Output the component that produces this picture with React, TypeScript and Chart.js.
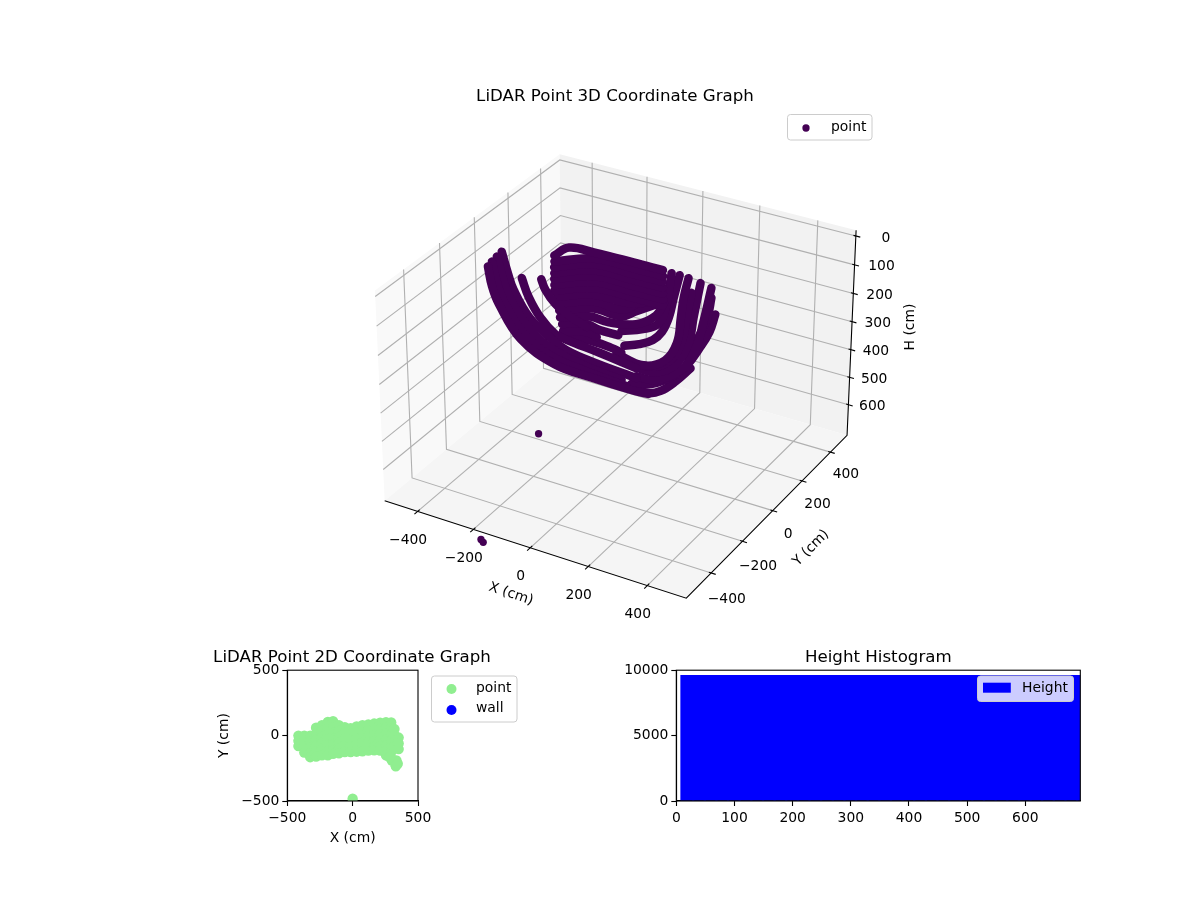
import React, { useEffect, useRef } from "react";
import { Chart, registerables } from "chart.js";

Chart.register(...registerables);

const FONT = "'DejaVu Sans'";
const PURPLE = "#440154";

const tickX3D = [-400, -200, 0, 200, 400];
const tickY3D = [-400, -200, 0, 200, 400];
const tickH3D = [0, 100, 200, 300, 400, 500, 600];
const tickHistX = [0, 100, 200, 300, 400, 500, 600];
const X_LIM = [-520, 530];
const Y_LIM = [-555, 520];
const H_LIM = [-20, 713];

type P3 = number[];
const arcA: P3[] = [[-483,13,147],[-456,-9,199],[-424,-23,246],[-337,-39,339],[-224,-21,407],[-119,17,441],[-3,62,474],[48,84,485]];
const arcA2: P3[] = [[-476,26,134],[-445,4,191],[-412,-12,240],[-334,-26,324],[-245,-16,383],[-134,19,425],[-17,61,464]];
const arcA3: P3[] = [[-467,41,121],[-434,20,178],[-404,4,225],[-337,-9,298],[-260,-6,357],[-153,22,407],[-34,62,448]];
const arcB: P3[] = [[-458,56,108],[-424,35,165],[-395,20,209],[-331,6,282],[-262,9,334],[-204,18,370],[-114,46,404],[4,88,443]];
const arcC: P3[] = [[-383,50,178],[-350,34,227],[-302,23,282],[-249,23,326],[-212,33,342],[-115,66,376],[-4,102,417]];
const arcD: P3[] = [[-330,79,181],[-310,70,209],[-273,66,246],[-227,71,277],[-170,83,308]];
const sweep0: P3[] = [[-314,133,118],[-281,168,97],[-211,200,110],[-97,248,136],[-12,284,157]];
const sweep1: P3[] = [[-309,125,134],[-206,191,126],[-92,240,152],[-7,276,173]];
const sweep2: P3[] = [[-305,116,149],[-202,183,141],[-88,231,167],[-3,267,188]];
const sweep3: P3[] = [[-300,108,165],[-197,174,157],[-83,223,183],[2,259,204]];
const sweep4: P3[] = [[-295,99,180],[-192,166,172],[-78,214,198],[7,250,219]];
const sweep5: P3[] = [[-290,91,196],[-187,158,188],[-73,206,214],[12,242,235]];
const sweep6: P3[] = [[-286,83,212],[-183,149,204],[-69,198,230],[16,234,251]];
const sweep7: P3[] = [[-273,79,227],[-177,140,222],[-64,189,246],[5,241,230]];
const sweep8: P3[] = [[-265,71,246],[-172,130,240],[-83,167,261],[-40,215,230]];
const sweep9: P3[] = [[-257,63,264],[-166,120,259],[-86,152,279],[-50,183,266],[9,234,243]];
const sweep10: P3[] = [[-249,54,282],[-173,101,279],[-115,124,295],[-40,165,300],[6,208,277],[17,239,243]];
const sweep11: P3[] = [[-238,48,300],[-178,85,298],[-133,99,316],[-79,121,329]];
const sweep12: P3[] = [[-230,40,318],[-166,76,321],[-135,84,334]];
const sweep13: P3[] = [[-225,31,334],[-159,64,341],[-87,92,363],[-57,101,376]];
const arcE0: P3[] = [[-74,132,318],[-18,168,313],[18,200,300],[26,235,256],[14,293,165]];
const arcE1: P3[] = [[-54,115,357],[-16,141,353],[17,169,342],[35,194,321],[42,226,282],[39,262,230],[37,303,170]];
const arcF: P3[] = [[-69,91,378],[12,117,409],[66,158,396],[84,202,350],[74,245,282],[66,277,230],[63,313,178]];
const arcF2: P3[] = [[-8,107,407],[52,139,412],[87,178,386],[96,217,339],[89,254,282],[83,297,217]];
const arcG: P3[] = [[10,108,420],[52,127,428],[98,170,407],[115,222,347],[108,265,282],[99,325,191]];
const arcH: P3[] = [[2,91,438],[58,116,448],[116,169,422],[139,223,365],[138,273,295],[132,335,204]];
const arcM: P3[] = [[118,196,386],[137,245,334],[145,287,282],[140,321,230]];
const arcJ: P3[] = [[164,303,274],[162,269,321],[147,226,368],[130,188,407],[100,148,438],[48,103,459],[-5,72,459]];
const arcK: P3[] = [[11,74,469],[46,85,483],[79,108,477],[112,146,451],[141,187,417]];
const outliers3D: P3[] = [[-16,-470,363],[-140,-608,700],[-126,-618,700]];
const allArcs = [arcA,arcA2,arcA3,arcB,arcC,arcD,sweep0,sweep1,sweep2,sweep3,sweep4,sweep5,sweep6,sweep7,sweep8,sweep9,sweep10,sweep11,sweep12,sweep13,arcE0,arcE1,arcF,arcF2,arcG,arcH,arcM,arcJ,arcK];

const planX: number[] = [-415,-415,-415,-370,-370,-370,-370,-325,-325,-325,-325,-325,-280,-280,-280,-280,-280,-280,-235,-235,-235,-235,-235,-235,-190,-190,-190,-190,-190,-190,-190,-150,-150,-150,-150,-150,-150,-150,-105,-105,-105,-105,-105,-105,-60,-60,-60,-60,-60,-15,-15,-15,-15,-15,30,30,30,30,30,75,75,75,75,75,120,120,120,120,120,165,165,165,165,165,165,210,210,210,210,210,210,255,255,255,255,255,255,255,295,295,295,295,295,295,295,320,320,320,320,352,352,352,330,300,335,280,330,345,0];
const planY: number[] = [0,-40,-80,0,-45,-90,-130,0,-45,-90,-135,-165,60,15,-30,-75,-120,-160,80,35,-10,-55,-100,-150,105,60,15,-30,-75,-120,-150,110,65,20,-25,-70,-115,-140,80,35,-10,-55,-100,-135,65,20,-25,-70,-125,57,15,-30,-80,-125,70,25,-20,-65,-123,80,35,-10,-55,-120,85,40,-5,-50,-115,92,50,5,-40,-85,-113,98,55,10,-35,-80,-115,103,60,15,-30,-75,-120,-150,100,55,10,-35,-80,-125,-170,50,5,-40,-85,-15,-60,-103,-225,-190,-190,-165,-235,-215,-483];
const wallX: number[] = [];
const wallY: number[] = [];

const histCenters = [19,39,59,79,99,119,139,159,179,199,219,239,259,279,299,319,339,359,379,399,419,439,459,479,499,519,539,559,579,599,619,639,659,679,699];
const histCounts = [9633,9633,9633,9633,9633,9633,9633,9633,9633,9633,9633,9633,9633,9633,9633,9633,9633,9633,9633,9633,9633,9633,9633,9633,9633,9633,9633,9633,9633,9633,9633,9633,9633,9633,9633];

// View set-up of the 3D axes
const OX = 622, OY = 367, S = 3030, AREA_LEFT = 30, AREA_TOP = 109;
const BOX_XY = 1.1429, BOX_Z = 0.795;

function project(x: number, y: number, h: number): { x: number; y: number } {
  const dx = ((x - X_LIM[0]) / (X_LIM[1] - X_LIM[0]) - 0.5) * BOX_XY;
  const dy = ((y - Y_LIM[0]) / (Y_LIM[1] - Y_LIM[0]) - 0.5) * BOX_XY;
  const dz = (0.5 - (h - H_LIM[0]) / (H_LIM[1] - H_LIM[0])) * BOX_Z;
  const vx = 0.866 * dx + 0.5 * dy;
  const vy = -0.25 * dx + 0.433 * dy + 0.866 * dz;
  const vz = 0.433 * dx - 0.75 * dy + 0.5 * dz;
  const depth = 10 - vz;
  return { x: vx / depth, y: vy / depth };
}

const minusFix = (v: number | string) => String(v).replace("-", "\u2212");

function legendBox(ctx: CanvasRenderingContext2D, x: number, y: number, w: number, h: number, fill: string) {
  ctx.beginPath();
  ctx.roundRect(x, y, w, h, 3);
  ctx.fillStyle = fill;
  ctx.fill();
  ctx.strokeStyle = "#cccccc";
  ctx.lineWidth = 1;
  ctx.stroke();
}

function legendText(ctx: CanvasRenderingContext2D, text: string, x: number, y: number) {
  ctx.fillStyle = "#000";
  ctx.font = `13.89px ${FONT}`;
  ctx.textAlign = "left";
  ctx.textBaseline = "middle";
  ctx.fillText(text, x, y);
}

const frame3D = {
  id: "frame3D",
  beforeDatasetsDraw(chart: any) {
    const { ctx, scales } = chart;
    const px = (x: number, y: number, h: number) => {
      const p = project(x, y, h);
      return [scales.x.getPixelForValue(p.x), scales.y.getPixelForValue(p.y)];
    };
    const [xa, xb] = X_LIM, [ya, yb] = Y_LIM, [ha, hb] = H_LIM;
    const poly = (pts: number[][], fill: string) => {
      ctx.beginPath();
      pts.forEach((p, i) => (i ? ctx.lineTo(p[0], p[1]) : ctx.moveTo(p[0], p[1])));
      ctx.closePath();
      ctx.fillStyle = fill;
      ctx.fill();
    };
    const path = (pts: number[][], color: string, w: number) => {
      ctx.beginPath();
      pts.forEach((p, i) => (i ? ctx.lineTo(p[0], p[1]) : ctx.moveTo(p[0], p[1])));
      ctx.strokeStyle = color;
      ctx.lineWidth = w;
      ctx.stroke();
    };
    ctx.save();
    poly([px(xa, ya, ha), px(xa, yb, ha), px(xa, yb, hb), px(xa, ya, hb)], "#f9f9f9");
    poly([px(xa, yb, ha), px(xb, yb, ha), px(xb, yb, hb), px(xa, yb, hb)], "#f2f2f2");
    poly([px(xa, ya, hb), px(xa, yb, hb), px(xb, yb, hb), px(xb, ya, hb)], "#f5f5f5");
    const grid = "#b0b0b0";
    tickX3D.forEach((t) => path([px(t, ya, hb), px(t, yb, hb), px(t, yb, ha)], grid, 1.1));
    tickY3D.forEach((t) => path([px(xb, t, hb), px(xa, t, hb), px(xa, t, ha)], grid, 1.1));
    tickH3D.forEach((t) => path([px(xa, ya, t), px(xa, yb, t), px(xb, yb, t)], grid, 1.1));
    path([px(xa, ya, hb), px(xb, ya, hb), px(xb, yb, hb), px(xb, yb, ha)], "#000", 1.1);
    tickX3D.forEach((t) => path([px(t, ya - 18, hb), px(t, ya + 12, hb)], "#000", 1.1));
    tickY3D.forEach((t) => path([px(xb - 8, t, hb), px(xb + 15, t, hb)], "#000", 1.1));
    tickH3D.forEach((t) => path([px(xb - 8, yb, t), px(xb + 15, yb, t)], "#000", 1.1));

    ctx.fillStyle = "#000";
    ctx.font = `13.89px ${FONT}`;
    ctx.textAlign = "center";
    ctx.textBaseline = "middle";
    tickX3D.forEach((t) => {
      const p = px(t, ya, hb);
      ctx.fillText(minusFix(t), p[0] - 9.5, p[1] + 29);
    });
    tickY3D.forEach((t) => {
      const p = px(xb, t, hb);
      ctx.fillText(minusFix(t), p[0] + 15.5, p[1] + 24 - t * 0.005);
    });
    tickH3D.forEach((t) => {
      const p = px(xb, yb, t);
      ctx.fillText(String(t), p[0] + (t === 0 ? 30 : 27.5 - t * 0.006), p[1] + 2);
    });
    const rotated = (text: string, x: number, y: number, deg: number) => {
      ctx.save();
      ctx.translate(x, y);
      ctx.rotate((deg * Math.PI) / 180);
      ctx.fillText(text, 0, 0);
      ctx.restore();
    };
    rotated("X (cm)", 511, 594, 18.5);
    rotated("Y (cm)", 811, 548, -45);
    rotated("H (cm)", 910, 327, -90);
    ctx.restore();
  },
  afterDraw(chart: any) {
    const { ctx } = chart;
    ctx.save();
    legendBox(ctx, 787.5, 114.5, 84.5, 25.5, "rgba(255,255,255,0.8)");
    ctx.beginPath();
    ctx.arc(806, 128, 3.65, 0, Math.PI * 2);
    ctx.fillStyle = PURPLE;
    ctx.fill();
    legendText(ctx, "point", 831, 127);
    ctx.restore();
  },
};

const spines = {
  id: "spines",
  afterDraw(chart: any) {
    const { ctx, chartArea: a } = chart;
    ctx.save();
    ctx.strokeStyle = "#000";
    ctx.lineWidth = 1.1;
    ctx.strokeRect(a.left, a.top, a.right - a.left, a.bottom - a.top);
    ctx.restore();
  },
};

const legend2D = {
  id: "legend2D",
  afterDraw(chart: any) {
    const { ctx } = chart;
    ctx.save();
    legendBox(ctx, 431.5, 676, 85.5, 46, "rgba(255,255,255,0.8)");
    ctx.fillStyle = "lightgreen";
    ctx.beginPath();
    ctx.arc(451.5, 689, 5, 0, Math.PI * 2);
    ctx.fill();
    ctx.fillStyle = "#0000ff";
    ctx.beginPath();
    ctx.arc(451.5, 710, 5, 0, Math.PI * 2);
    ctx.fill();
    legendText(ctx, "point", 476, 688);
    legendText(ctx, "wall", 476, 708);
    ctx.restore();
  },
};

const legendHist = {
  id: "legendHist",
  afterDraw(chart: any) {
    const { ctx } = chart;
    ctx.save();
    legendBox(ctx, 977.5, 676, 96, 25.5, "rgba(255,255,255,0.8)");
    ctx.fillStyle = "#0000ff";
    ctx.fillRect(983, 682.7, 27.8, 10);
    legendText(ctx, "Height", 1022, 688);
    ctx.restore();
  },
};

const axisFont = { family: FONT, size: 13.89 };
const axisGrid = { display: true, drawOnChartArea: false, drawTicks: true, tickLength: 5, tickColor: "#000", tickWidth: 1.1 };
const axisBorder = { display: true, color: "#000", width: 1.1 };
const titleOpts = (text: string, fullSize: boolean, top = 2) => ({
  display: true,
  text,
  color: "#000",
  fullSize,
  font: { family: FONT, size: 16.67, weight: "normal" as const },
  padding: { top, bottom: 4 - top },
});

export default function App() {
  const ref3D = useRef<HTMLCanvasElement>(null);
  const ref2D = useRef<HTMLCanvasElement>(null);
  const refHist = useRef<HTMLCanvasElement>(null);

  useEffect(() => {
    const chart3D = new Chart(ref3D.current as HTMLCanvasElement, {
      type: "scatter",
      data: {
        datasets: [
          ...allArcs.map((arc) => ({
            label: "point",
            data: arc.map((p) => project(p[0], p[1], p[2])),
            showLine: true,
            tension: 0.4,
            borderColor: PURPLE,
            backgroundColor: PURPLE,
            borderWidth: 8.5,
            borderCapStyle: "round",
            borderJoinStyle: "round",
            pointRadius: 0,
            clip: false,
          })),
          {
            label: "point",
            data: outliers3D.map((p) => project(p[0], p[1], p[2])),
            showLine: false,
            backgroundColor: PURPLE,
            borderColor: PURPLE,
            pointRadius: 3.65,
            pointBorderWidth: 0,
            clip: false,
          },
        ],
      } as any,
      options: {
        responsive: false,
        animation: false,
        layout: { padding: { top: 85, left: AREA_LEFT } },
        plugins: {
          legend: { display: false },
          tooltip: { enabled: false },
          title: titleOpts("LiDAR Point 3D Coordinate Graph", true),
        },
        scales: {
          x: { type: "linear", display: false, min: (AREA_LEFT - OX) / S, max: (1200 - OX) / S },
          y: { type: "linear", display: false, min: (OY - 900) / S, max: (OY - AREA_TOP) / S },
        },
      } as any,
      plugins: [frame3D],
    });

    const chart2D = new Chart(ref2D.current as HTMLCanvasElement, {
      type: "scatter",
      data: {
        datasets: [
          {
            label: "point",
            data: planX.map((x, i) => ({ x, y: planY[i] })),
            backgroundColor: "lightgreen",
            borderColor: "lightgreen",
            pointRadius: 5.2,
            pointBorderWidth: 0,
            clip: 0,
          },
          {
            label: "wall",
            data: wallX.map((x, i) => ({ x, y: wallY[i] })),
            backgroundColor: "#0000ff",
            pointRadius: 5.2,
            clip: 0,
          },
        ],
      } as any,
      options: {
        responsive: false,
        animation: false,
        layout: { padding: { left: 205, right: 701, top: 646.2, bottom: 900 - 801 - 45.5 } },
        plugins: {
          legend: { display: false },
          tooltip: { enabled: false },
          title: titleOpts("LiDAR Point 2D Coordinate Graph", true, 1),
        },
        scales: {
          x: {
            type: "linear", min: -500, max: 500,
            afterFit: (s: any) => { s.height = 45.5; },
            grid: axisGrid, border: axisBorder,
            ticks: { stepSize: 500, color: "#000", font: axisFont, padding: 4, maxRotation: 0, callback: (v: any) => minusFix(v) },
            title: { display: true, text: "X (cm)", color: "#000", font: axisFont, padding: 0 },
          },
          y: {
            type: "linear", min: -500, max: 500,
            afterFit: (s: any) => { s.width = 82.3; },
            grid: axisGrid, border: axisBorder,
            ticks: { stepSize: 500, color: "#000", font: axisFont, padding: 3, callback: (v: any) => minusFix(v) },
            title: { display: true, text: "Y (cm)", color: "#000", font: axisFont, padding: { top: 10.7, bottom: 0 } },
          },
          yBalance: {
            type: "linear", position: "right", display: true,
            afterFit: (s: any) => { s.width = 81; },
            ticks: { display: false }, grid: { display: false }, border: { display: false },
          },
        },
      } as any,
      plugins: [spines, legend2D],
    });

    const chartHist = new Chart(refHist.current as HTMLCanvasElement, {
      type: "bar",
      data: {
        datasets: [
          {
            label: "Height",
            data: histCenters.map((x, i) => ({ x, y: histCounts[i] })),
            backgroundColor: "#0000ff",
            borderWidth: 0,
            barPercentage: 1.2,
            categoryPercentage: 1,
          },
        ],
      } as any,
      options: {
        responsive: false,
        animation: false,
        layout: { padding: { left: 676.3 - 60, right: 1200 - 1080.3, top: 646.2, bottom: 900 - 801 - 24 } },
        plugins: {
          legend: { display: false },
          tooltip: { enabled: false },
          title: titleOpts("Height Histogram", false, 1),
        },
        scales: {
          x: {
            type: "linear", min: 0, max: 694.5, offset: false,
            afterFit: (s: any) => { s.height = 24; },
            afterBuildTicks: (s: any) => { s.ticks = tickHistX.map((value) => ({ value })); },
            grid: { ...axisGrid, offset: false }, border: axisBorder,
            ticks: { color: "#000", font: axisFont, padding: 4, maxRotation: 0, autoSkip: false },
          },
          y: {
            type: "linear", min: 0, max: 10000,
            afterFit: (s: any) => { s.width = 60; },
            grid: axisGrid, border: axisBorder,
            ticks: { stepSize: 5000, color: "#000", font: axisFont, padding: 3, callback: (v: any) => String(v) },
          },
        },
      } as any,
      plugins: [spines, legendHist],
    });

    return () => {
      chart3D.destroy();
      chart2D.destroy();
      chartHist.destroy();
    };
  }, []);

  const style: React.CSSProperties = { position: "absolute", left: 0, top: 0, display: "block" };
  return (
    <div style={{ position: "fixed", left: 0, top: 0, width: 1200, height: 900, background: "#fff" }}>
      <canvas ref={ref3D} width={1200} height={900} style={style} />
      <canvas ref={ref2D} width={1200} height={900} style={style} />
      <canvas ref={refHist} width={1200} height={900} style={style} />
    </div>
  );
}
